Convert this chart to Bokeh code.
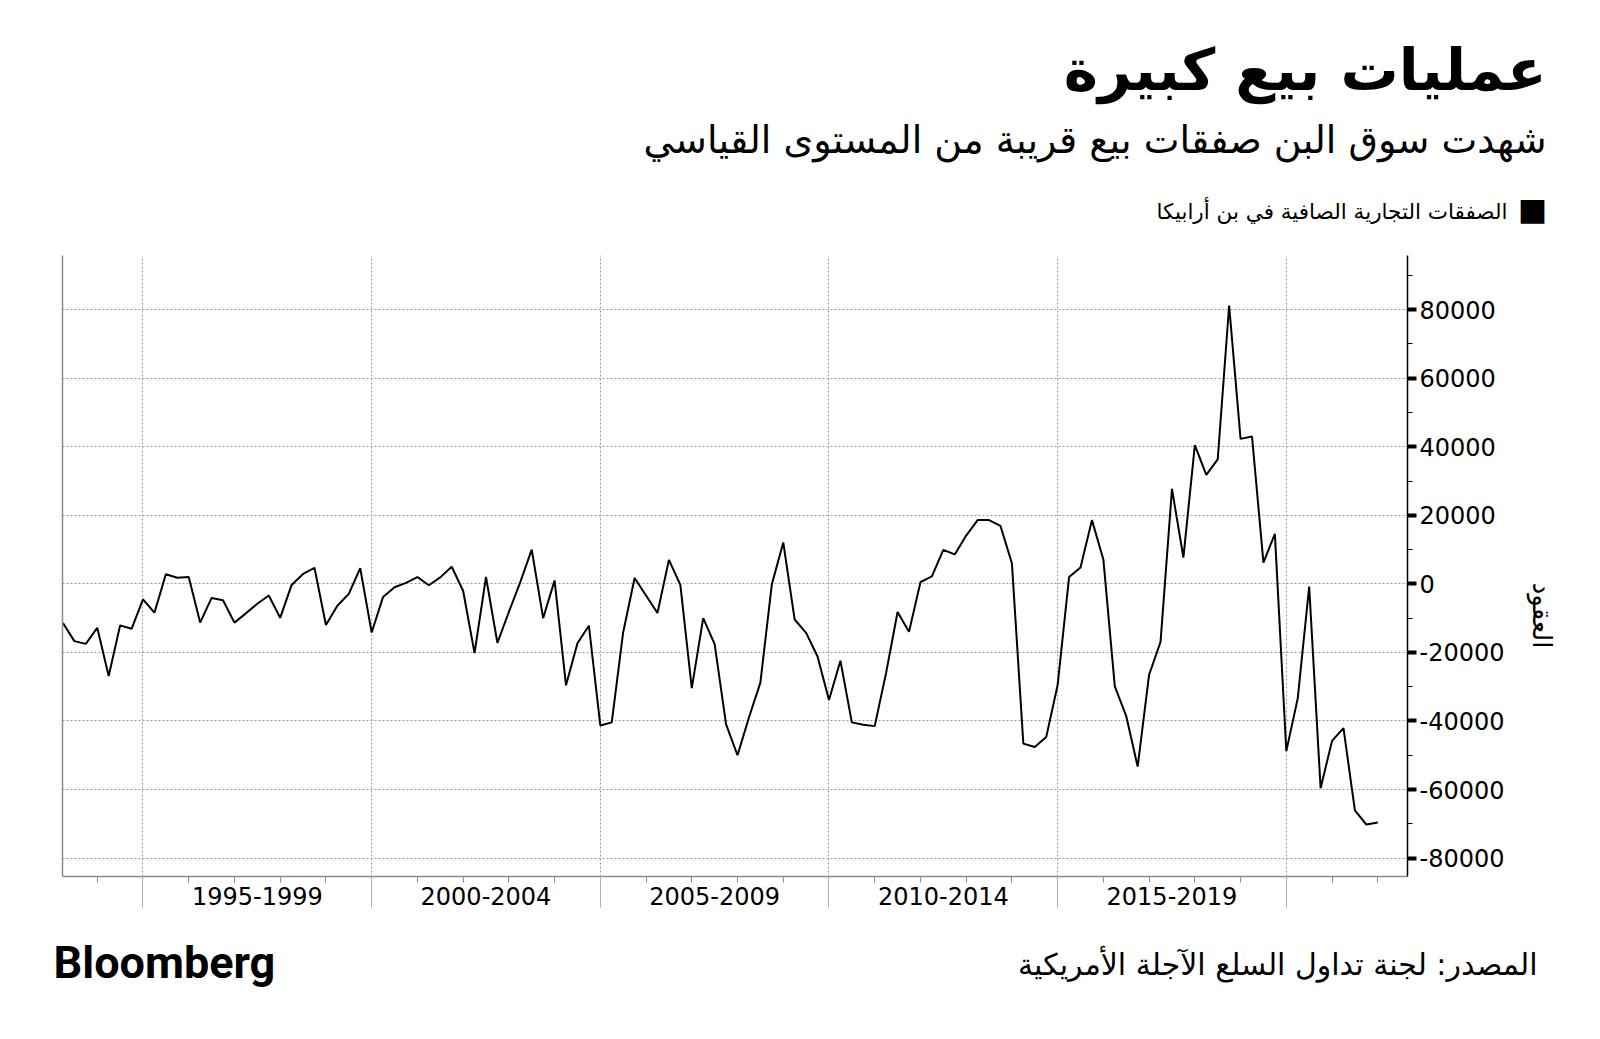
import math
from bokeh.plotting import figure
from bokeh.layouts import column
from bokeh.models import Label, LinearAxis, FixedTicker, ColumnDataSource, Range1d
from bokeh.embed import file_html
from bokeh.resources import INLINE

# ---------------- data ----------------
title_text = "عمليات بيع كبيرة"
subtitle_text = "شهدت سوق البن صفقات بيع قريبة من المستوى القياسي"
legend_text = "الصفقات التجارية الصافية في بن أرابيكا"
y_axis_title = "العقود"
source_text = "المصدر: لجنة تداول السلع الآجلة الأمريكية"
brand_text = "Bloomberg"

period_labels = ["1995-1999", "2000-2004", "2005-2009", "2010-2014", "2015-2019"]
period_starts = [1995, 2000, 2005, 2010, 2015]
boundary_years = [1995, 2000, 2005, 2010, 2015, 2020]
minor_years = list(range(1994, 2023))
y_ticks = [-80000, -60000, -40000, -20000, 0, 20000, 40000, 60000, 80000]
y_tick_labels = ["-80000", "-60000", "-40000", "-20000", "0", "20000", "40000", "60000", "80000"]
y_minor_ticks = list(range(-80000, 90001, 10000))

first_year, first_quarter = 1993, 2   # quarterly series starts in Q2 1993

net_positions = [
    -11400, -16700, -17500, -12800, -26900, -12100, -13100, -4500, -8400, 2800,
    1800, 2000, -11300, -4100, -4800, -11300, -8600, -5800, -3400, -9900,
    -300, 2900, 4700, -12000, -6400, -2900, 4600, -14200, -3800, -1000,
    300, 2000, -400, 1900, 5000, -2000, -20200, 2000, -17200, -8200,
    500, 10000, -10000, 1000, -29600, -17300, -12200, -41300, -40400, -14100,
    1700, -3400, -8500, 7000, -300, -30400, -10000, -17600, -41000, -50000,
    -39000, -28800, -200, 12100, -10400, -14300, -21200, -33900, -22400, -40400,
    -41100, -41500, -25900, -8200, -14000, 500, 2200, 9900, 8600, 14100,
    18600, 18600, 16900, 6000, -46600, -47600, -44700, -29500, 2000, 4800,
    18600, 7100, -29900, -38600, -53300, -26500, -16900, 27700, 7700, 40500,
    31800, 36300, 81200, 42300, 43000, 6200, 14600, -48800, -33400, -800,
    -59600, -45800, -42100, -66100, -70200, -69600,
]

# quarter positions as decimal years
quarter_x = []
yy, qq = first_year, first_quarter
for _ in net_positions:
    quarter_x.append(yy + (qq - 1) / 4.0)
    qq += 1
    if qq > 4:
        qq = 1
        yy += 1

# ---------------- layout constants ----------------
W = 1600
HEAD_H = 240          # canvas rows 0..240
CHART_H = 690         # canvas rows 240..930
FOOT_H = 109          # canvas rows 930..1039
L, R = 62, 1407
FRAME_TOP, FRAME_BOT = 255, 876
GRID = "#9a9a9a"
AR_FONT = "DejaVu Sans"
NUM_FONT = "DejaVu Sans"


def blank_fig(h):
    f = figure(width=W, height=h, output_backend="svg", toolbar_location=None,
               x_range=Range1d(0, W), y_range=Range1d(0, h),
               x_axis_type=None, y_axis_type=None, frame_align=False,
               min_border=0, min_border_left=0, min_border_right=0,
               min_border_top=0, min_border_bottom=0)
    f.outline_line_color = None
    f.grid.visible = False
    f.background_fill_color = "white"
    f.border_fill_color = "white"
    return f


def lab(f, h, top, text, cx, cy, size, align="right", bold=False, font=AR_FONT):
    # cx, cy are page pixel positions; converted to this figure's screen units
    f.add_layout(Label(x=cx, y=h - (cy - top), x_units="screen", y_units="screen", text=text,
                       text_font=font, text_font_size=f"{size}px",
                       text_font_style="bold" if bold else "normal",
                       text_align=align, text_baseline="middle", text_color="black"))


# ---------------- header ----------------
head = blank_fig(HEAD_H)
lab(head, HEAD_H, 0, title_text, 1546, 69, 58, bold=True)
lab(head, HEAD_H, 0, subtitle_text, 1546, 139, 38)
lab(head, HEAD_H, 0, "■", 1532, 208, 31, align="center")
lab(head, HEAD_H, 0, legend_text, 1507, 211, 21.5)

# ---------------- chart ----------------
p = figure(width=W, height=CHART_H, output_backend="svg", toolbar_location=None,
           x_range=Range1d(1993.24, 2022.65), y_range=Range1d(-85370, 95800),
           frame_align=False,
           min_border_left=L, min_border_right=W - R,
           min_border_top=FRAME_TOP - HEAD_H,
           min_border_bottom=HEAD_H + CHART_H - FRAME_BOT)
p.outline_line_color = None
p.background_fill_color = "white"
p.border_fill_color = "white"

src = ColumnDataSource(data=dict(x=quarter_x, y=net_positions))
p.line("x", "y", source=src, line_color="black", line_width=2)

p.xgrid.ticker = FixedTicker(ticks=boundary_years)
p.ygrid.ticker = FixedTicker(ticks=y_ticks)
for g in (p.xgrid[0], p.ygrid[0]):
    g.grid_line_color = GRID
    g.grid_line_dash = "2 2"
    g.grid_line_width = 1

la = p.yaxis[0]
la.ticker = FixedTicker(ticks=y_ticks)
la.major_tick_line_color = None
la.minor_tick_line_color = None
la.major_label_text_font_size = "0px"
la.major_label_overrides = {t: "" for t in y_ticks}
la.axis_line_color = "#8a8a8a"
la.axis_line_width = 1.5

ra = LinearAxis(ticker=FixedTicker(ticks=y_ticks, minor_ticks=y_minor_ticks))
ra.major_label_overrides = {t: s for t, s in zip(y_ticks, y_tick_labels)}
ra.axis_line_color = "black"
ra.axis_line_width = 1.5
ra.major_tick_line_color = "black"
ra.major_tick_line_width = 4
ra.major_tick_out = 9
ra.major_tick_in = 0
ra.minor_tick_line_color = "black"
ra.minor_tick_out = 5
ra.minor_tick_in = 0
ra.major_label_standoff = 3
ra.major_label_text_font = NUM_FONT
ra.major_label_text_font_size = "24px"
ra.major_label_text_color = "black"
# leading no-break spaces push the word down the axis (label is centred on the frame)
ra.axis_label = "\u00a0" * 12 + y_axis_title
ra.axis_label_text_font = AR_FONT
ra.axis_label_text_font_size = "26px"
ra.axis_label_text_font_style = "normal"
ra.axis_label_text_color = "black"
ra.axis_label_standoff = 19
p.add_layout(ra, "right")

xa = p.xaxis[0]
label_pos = [s + 2.5 for s in period_starts]
xa.ticker = FixedTicker(ticks=label_pos, minor_ticks=minor_years)
xa.major_label_overrides = {pos: s for pos, s in zip(label_pos, period_labels)}
xa.major_tick_line_color = None
xa.major_tick_out = 0
xa.major_tick_in = 0
xa.minor_tick_line_color = "#8a8a8a"
xa.minor_tick_out = 6
xa.minor_tick_in = 0
xa.axis_line_color = "#8a8a8a"
xa.axis_line_width = 1.5
xa.major_label_standoff = 4
xa.major_label_text_font = NUM_FONT
xa.major_label_text_font_size = "24px"
xa.major_label_text_color = "black"

xb = LinearAxis(ticker=FixedTicker(ticks=boundary_years, minor_ticks=[]))
xb.major_label_overrides = {y: "" for y in boundary_years}
xb.major_label_text_font_size = "0px"
xb.major_label_standoff = 0
xb.axis_line_color = None
xb.major_tick_line_color = "#b0b0b0"
xb.major_tick_in = 32
xb.major_tick_out = 0
xb.minor_tick_line_color = None
p.add_layout(xb, "below")

# ---------------- footer ----------------
foot = blank_fig(FOOT_H)
top = HEAD_H + CHART_H
lab(foot, FOOT_H, top, source_text, 1537, 964, 30)
lab(foot, FOOT_H, top, brand_text, 53, 962, 45, align="left", bold=True, font="Roboto")

page = column(head, p, foot, spacing=0)
open("out.html", "w").write(file_html(page, INLINE))
